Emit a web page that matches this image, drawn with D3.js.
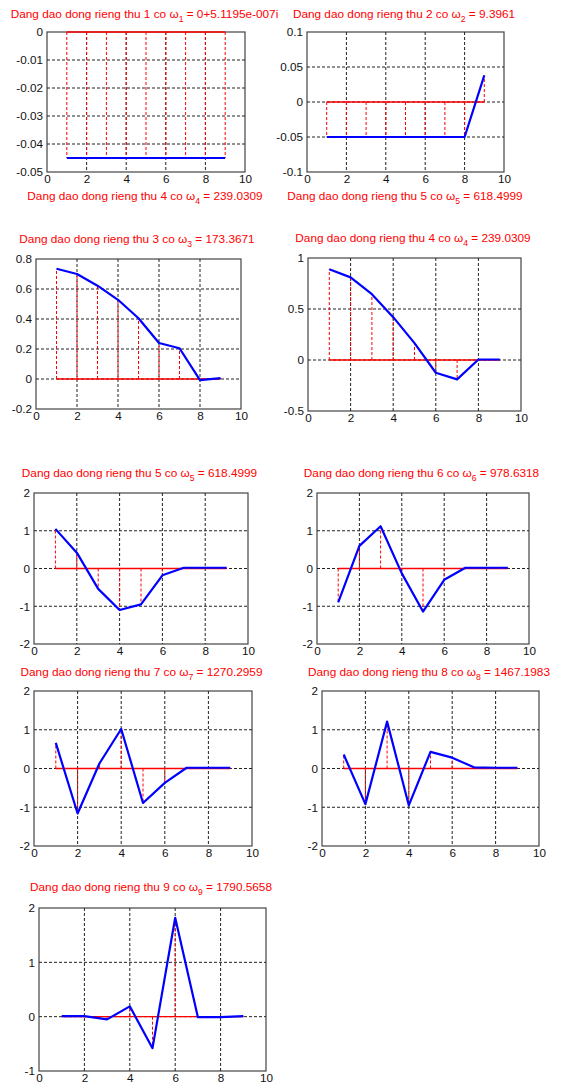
<!DOCTYPE html>
<html><head><meta charset="utf-8">
<script src="https://cdn.jsdelivr.net/npm/d3@7"></script>
<style>body{margin:0;background:#fff}svg{display:block}</style>
</head><body>
<svg id="c" width="562" height="1090"></svg>
<script>
// ---- data ----
const xs = [1,2,3,4,5,6,7,8,9];
const xTicks = [0,2,4,6,8,10];
const xTickLabels = ["0","2","4","6","8","10"];

const mode1 = [-0.045,-0.045,-0.045,-0.045,-0.045,-0.045,-0.045,-0.045,-0.045];
const mode2 = [-0.05,-0.05,-0.05,-0.05,-0.05,-0.05,-0.05,-0.05,0.038];
const mode3 = [0.735,0.70,0.622,0.528,0.405,0.24,0.205,-0.008,0.006];
const mode4 = [0.89,0.81,0.645,0.42,0.165,-0.125,-0.19,0.005,0.005];
const mode5 = [1.05,0.42,-0.54,-1.1,-0.95,-0.18,0.02,0.02,0.02];
const mode6 = [-0.9,0.6,1.12,-0.13,-1.14,-0.3,0.02,0.02,0.02];
const mode7 = [0.66,-1.16,0.13,1.02,-0.89,-0.37,0.02,0.02,0.02];
const mode8 = [0.36,-0.92,1.21,-0.95,0.43,0.28,0.03,0.02,0.02];
const mode9 = [0.01,0.01,-0.05,0.19,-0.58,1.82,-0.01,-0.01,0.01];

const yTicks1 = [-0.05,-0.04,-0.03,-0.02,-0.01,0];
const yLabels1 = ["-0.05","-0.04","-0.03","-0.02","-0.01","0"];
const yTicks2 = [-0.1,-0.05,0,0.05,0.1];
const yLabels2 = ["-0.1","-0.05","0","0.05","0.1"];
const yTicks3 = [-0.2,0,0.2,0.4,0.6,0.8];
const yLabels3 = ["-0.2","0","0.2","0.4","0.6","0.8"];
const yTicks4 = [-0.5,0,0.5,1];
const yLabels4 = ["-0.5","0","0.5","1"];
const yTicks5 = [-2,-1,0,1,2];
const yLabels5 = ["-2","-1","0","1","2"];
const yTicks9 = [-1,0,1,2];
const yLabels9 = ["-1","0","1","2"];

const modeNums = ["1","2","3","4","5","6","7","8","9"];
const omegaVals = ["0+5.1195e-007i","9.3961","173.3671","239.0309","618.4999","978.6318","1270.2959","1467.1983","1790.5658"];
// stray overlapping titles (as in the original figure)
const strayNums = ["4","5"];
const strayVals = ["239.0309","618.4999"];

// ---- layout ----
const boxes = [
  {l:47,t:32,r:245,b:172,tb:18},
  {l:307,t:32,r:504,b:172,tb:18},
  {l:36,t:259,r:241,b:409,tb:243},
  {l:308,t:258,r:521,b:411,tb:242},
  {l:34,t:493,r:248,b:644,tb:477},
  {l:317,t:493,r:529,b:644,tb:477},
  {l:34,t:691,r:252,b:846,tb:676},
  {l:322,t:691,r:539,b:846,tb:676},
  {l:39,t:908,r:266,b:1071,tb:891}
];
const strayPos = [{cx:145,tb:199.5},{cx:405,tb:199.5}];

const panels = [
  {v:mode1,yt:yTicks1,yl:yLabels1},
  {v:mode2,yt:yTicks2,yl:yLabels2},
  {v:mode3,yt:yTicks3,yl:yLabels3},
  {v:mode4,yt:yTicks4,yl:yLabels4},
  {v:mode5,yt:yTicks5,yl:yLabels5},
  {v:mode6,yt:yTicks5,yl:yLabels5},
  {v:mode7,yt:yTicks5,yl:yLabels5},
  {v:mode8,yt:yTicks5,yl:yLabels5},
  {v:mode9,yt:yTicks9,yl:yLabels9}
];

const FONT = "'Liberation Sans', Arial, sans-serif";
const FS = 11.7;
const TFS = 11.8;
const svg = d3.select("#c");

function title(g, cx, tb, num, val){
  const t = g.append("text").attr("x",cx).attr("y",tb)
    .attr("text-anchor","middle").attr("fill","#ff0000")
    .style("font-family",FONT).style("font-size",TFS+"px");
  t.append("tspan").text("Dang dao dong rieng thu "+num+" co \u03c9");
  t.append("tspan").attr("dy",4).style("font-size","8.6px").text(num);
  t.append("tspan").attr("dy",-4).text(" = "+val);
}

panels.forEach((p,i)=>{
  const b = boxes[i];
  const g = svg.append("g");
  const x = d3.scaleLinear().domain([0,10]).range([b.l,b.r]);
  const y = d3.scaleLinear().domain([d3.min(p.yt),d3.max(p.yt)]).range([b.b,b.t]);

  // white axes background + box
  g.append("rect").attr("x",b.l).attr("y",b.t).attr("width",b.r-b.l).attr("height",b.b-b.t)
    .attr("fill","#fff").attr("stroke","#444").attr("stroke-width",1.2);

  // grid
  g.selectAll(".gx").data(xTicks.slice(1,-1)).join("line")
    .attr("x1",d=>x(d)).attr("x2",d=>x(d)).attr("y1",b.t).attr("y2",b.b)
    .attr("stroke","#222").attr("stroke-width",1).attr("stroke-dasharray","3,2");
  g.selectAll(".gy").data(p.yt.slice(1,-1)).join("line")
    .attr("y1",d=>y(d)).attr("y2",d=>y(d)).attr("x1",b.l).attr("x2",b.r)
    .attr("stroke","#222").attr("stroke-width",1).attr("stroke-dasharray","3,2");

  // axes labels
  const ax = d3.axisBottom(x).tickValues(xTicks).tickSize(0).tickPadding(4)
    .tickFormat((d,k)=>xTickLabels[k]);
  const ay = d3.axisLeft(y).tickValues(p.yt).tickSize(0).tickPadding(4)
    .tickFormat((d,k)=>p.yl[k]);
  const gx = g.append("g").attr("transform",`translate(0,${b.b})`).call(ax);
  const gy = g.append("g").attr("transform",`translate(${b.l},0)`).call(ay);
  [gx,gy].forEach(a=>{
    a.select(".domain").remove();
    a.selectAll("text").style("font-family",FONT).style("font-size",FS+"px").attr("fill","#111");
  });
  gx.selectAll("text").attr("dy","0.75em").attr("y",2);

  // stems
  g.selectAll(".stem").data(xs).join("line")
    .attr("x1",d=>x(d)).attr("x2",d=>x(d))
    .attr("y1",y(0)).attr("y2",(d,k)=>y(p.v[k]))
    .attr("stroke","#ff0000").attr("stroke-width",1).attr("stroke-dasharray","3,2");
  // baseline
  g.append("line").attr("x1",x(xs[0])).attr("x2",x(xs[xs.length-1]))
    .attr("y1",y(0)).attr("y2",y(0)).attr("stroke","#ff0000").attr("stroke-width",1.3);
  // mode shape line
  const line = d3.line().x(d=>x(d)).y((d,k)=>y(p.v[k]));
  g.append("path").datum(xs).attr("d",line).attr("fill","none")
    .attr("stroke","#0000ff").attr("stroke-width",2.2).attr("stroke-linejoin","round");

  title(svg, (b.l+b.r)/2 - 1.5, b.tb, modeNums[i], omegaVals[i]);
});

strayPos.forEach((s,k)=> title(svg, s.cx, s.tb, strayNums[k], strayVals[k]));
</script>
</body></html>
